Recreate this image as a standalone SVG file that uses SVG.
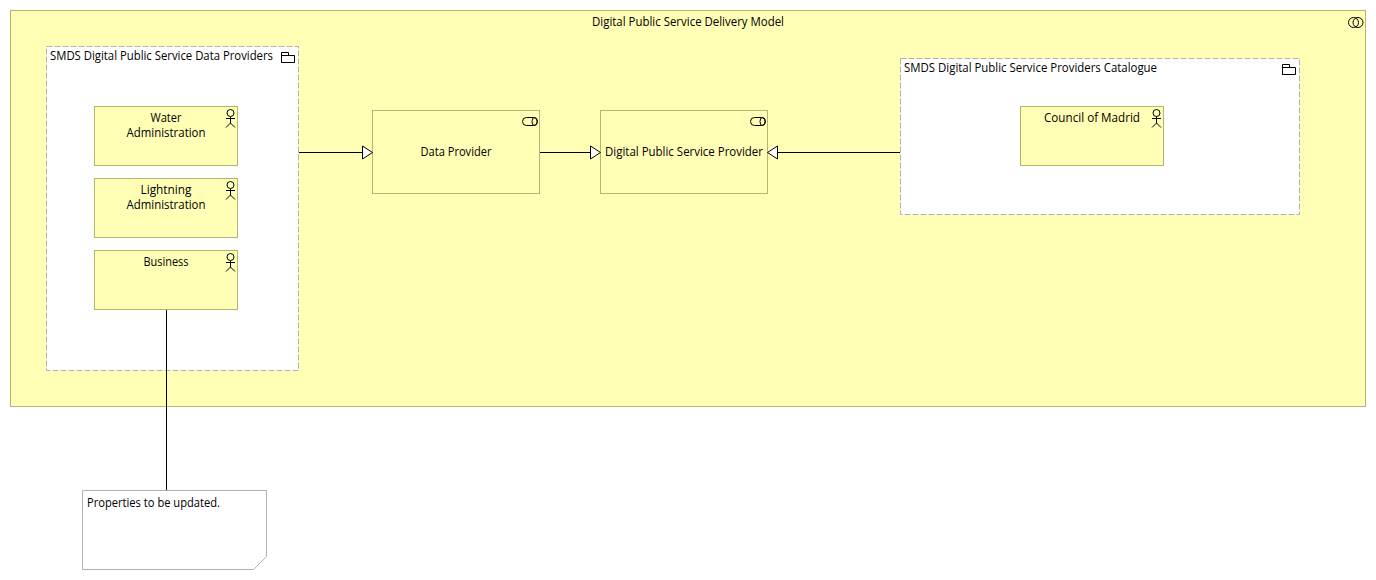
<svg xmlns="http://www.w3.org/2000/svg" width="1376" height="580" viewBox="0 0 1376 580">
<style>
text{font-family:"Open Sans","Noto Sans","Liberation Sans",sans-serif;font-size:12px;fill:#000}
.m{text-anchor:middle}
.el{fill:#ffffb5;stroke:#b5b571;stroke-width:1}
.grp{fill:#fff;stroke:#b0b0b0;stroke-width:1;stroke-dasharray:6 2}
.ic{fill:none;stroke:#000;stroke-width:1}
.ln{fill:none;stroke:#000;stroke-width:1}
.hd{fill:#fff;stroke:#000;stroke-width:1}
</style>
<defs>
<g id="actor" class="ic"><circle cx="0" cy="0" r="3.5"/><path d="M0 3.5V10M-4.5 5.5H4.5M0 10L-4.5 14.5M0 10L4.5 14.5"/></g>
<g id="folder" class="ic"><path d="M0.5 10.5V0.5H7.5V3.5M0.5 3.5H13.5V10.5H0.5Z"/></g>
<g id="iface" class="ic"><rect x="0.5" y="0.5" width="15" height="8" rx="4" ry="4"/><ellipse cx="12.5" cy="4.5" rx="2.5" ry="4"/></g>
</defs>
<g id="model"><rect class="el" x="10.5" y="10.5" width="1355" height="396"/>
<text class="m" x="688" y="26" textLength="192" lengthAdjust="spacingAndGlyphs">Digital Public Service Delivery Model</text>
<g class="ic"><circle cx="1353.5" cy="22.5" r="5"/><circle cx="1358" cy="22.5" r="5"/></g></g>
<g id="data-providers"><rect class="grp" x="46.5" y="46.5" width="252" height="324"/>
<text x="50" y="60" textLength="223" lengthAdjust="spacingAndGlyphs">SMDS Digital Public Service Data Providers</text>
<use href="#folder" x="281" y="52"/></g>
<g id="water"><rect class="el" x="94.5" y="106.5" width="143" height="59"/>
<text class="m" x="166" y="122" textLength="31" lengthAdjust="spacingAndGlyphs">Water</text><text class="m" x="166" y="137" textLength="79" lengthAdjust="spacingAndGlyphs">Administration</text><use href="#actor" x="230.5" y="113"/></g>
<g id="lightning"><rect class="el" x="94.5" y="178.5" width="143" height="59"/>
<text class="m" x="166" y="194" textLength="51" lengthAdjust="spacingAndGlyphs">Lightning</text><text class="m" x="166" y="209" textLength="79" lengthAdjust="spacingAndGlyphs">Administration</text><use href="#actor" x="230.5" y="185"/></g>
<g id="business"><rect class="el" x="94.5" y="250.5" width="143" height="59"/>
<text class="m" x="166" y="266" textLength="45" lengthAdjust="spacingAndGlyphs">Business</text><use href="#actor" x="230.5" y="257"/></g>
<g id="data-provider"><rect class="el" x="372.5" y="110.5" width="167" height="83"/>
<text class="m" x="456" y="156" textLength="71" lengthAdjust="spacingAndGlyphs">Data Provider</text><use href="#iface" x="522" y="117"/></g>
<g id="service-provider"><rect class="el" x="600.5" y="110.5" width="167" height="83"/>
<text class="m" x="684" y="156" textLength="158" lengthAdjust="spacingAndGlyphs">Digital Public Service Provider</text><use href="#iface" x="750" y="117"/></g>
<g id="catalogue"><rect class="grp" x="900.5" y="58.5" width="399" height="156"/>
<text x="904" y="72" textLength="253" lengthAdjust="spacingAndGlyphs">SMDS Digital Public Service Providers Catalogue</text>
<use href="#folder" x="1282" y="64"/></g>
<g id="council"><rect class="el" x="1020.5" y="106.5" width="143" height="59"/>
<text class="m" x="1092" y="122" textLength="96" lengthAdjust="spacingAndGlyphs">Council of Madrid</text><use href="#actor" x="1156.5" y="113"/></g>
<g id="note"><path d="M82.5 490.5H266.5V556.5L253.5 569.5H82.5Z" fill="#fff" stroke="#b0b0b0"/>
<text x="87" y="507" textLength="133" lengthAdjust="spacingAndGlyphs">Properties to be updated.</text></g>
<g id="connectors">
<path class="ln" d="M299 152.5H362.5"/><path class="hd" d="M362.5 146L372.5 152.5L362.5 159Z"/>
<path class="ln" d="M540 152.5H590.5"/><path class="hd" d="M590.5 146L600.5 152.5L590.5 159Z"/>
<path class="ln" d="M900 152.5H777.5"/><path class="hd" d="M777.5 146L767.5 152.5L777.5 159Z"/>
<path class="ln" d="M166.5 310V490"/>
</g>
</svg>
